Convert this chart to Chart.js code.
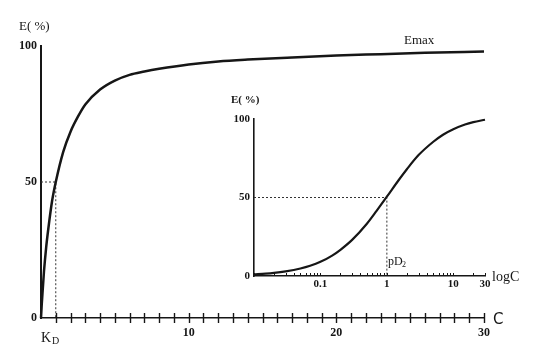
<!DOCTYPE html>
<html>
<head>
<meta charset="utf-8">
<script src="https://cdn.jsdelivr.net/npm/chart.js@4.4.1/dist/chart.umd.min.js"></script>
<style>
html, body { margin: 0; padding: 0; background: #fff; }
#wrap { position: relative; width: 536px; height: 359px; }
#main { position: absolute; left: 0; top: 0; }
#inset { position: absolute; left: 210px; top: 90px; }
</style>
</head>
<body>
<div id="wrap">
  <canvas id="main" width="536" height="359"></canvas>
  <canvas id="inset" width="326" height="210"></canvas>
</div>
<script>
// main plot: E (%) against C
const mainC = [0, 0.05, 0.1, 0.2, 0.35, 0.5, 0.75, 1, 1.5, 2, 2.5, 3, 4, 5, 6, 7, 8, 10, 12, 14, 17, 20, 23, 26, 30];
const mainE = [0, 5, 9, 17, 26, 33, 43, 50, 61, 68.5, 74, 78.5, 84, 87.3, 89.4, 90.6, 91.6, 93.2, 94.3, 95, 95.8, 96.5, 97, 97.5, 98];
const mainYTicks = [0, 50, 100];
const mainXLabels = [10, 20, 30];

// inset: E (%) against log C
const insetC = [0.01, 0.015, 0.02, 0.03, 0.05, 0.07, 0.1, 0.15, 0.2, 0.3, 0.5, 0.7, 1, 1.5, 2, 3, 5, 7, 10, 15, 20, 30];
const insetE = [1, 1.5, 2, 3, 4.8, 6.5, 9, 13, 16.7, 23, 33.3, 41.5, 50.5, 61, 68, 77, 85.5, 90, 93.5, 96.5, 98, 99.5];
const insetYTicks = [0, 50, 100];
const insetXLabels = [0.1, 1, 10, 30];

const kd = 1;      // K_D
const pd2 = 1;     // pD2 point
const halfE = 50;

const ink = '#161616';
const serif = '"Liberation Serif", "DejaVu Serif", serif';

function toPoints(xs, ys) {
    return xs.map((x, i) => ({x: x, y: ys[i]}));
}

const mainDecor = {
    id: 'mainDecor',
    afterDraw(chart) {
        const ctx = chart.ctx;
        const xs = chart.scales.x;
        const bottom = chart.chartArea.bottom;
        ctx.save();
        ctx.strokeStyle = ink;
        ctx.lineWidth = 1.4;
        xs.ticks.forEach(t => {
            if (t.value <= 0) return;
            const px = Math.round(xs.getPixelForValue(t.value)) + 0.5;
            ctx.beginPath();
            ctx.moveTo(px, bottom - 5);
            ctx.lineTo(px, bottom + 5);
            ctx.stroke();
        });
        ctx.fillStyle = ink;
        ctx.textBaseline = 'middle';
        ctx.font = '13px ' + serif;
        ctx.fillText('E( %)', 19, 27);
        ctx.fillText('Emax', 404, 41);
        ctx.font = '14px ' + serif;
        ctx.fillText('K', 41, 338);
        ctx.font = '10px ' + serif;
        ctx.fillText('D', 52, 341);
        ctx.font = '15px "DejaVu Sans", sans-serif';
        ctx.fillText('C', 493, 320);
        ctx.restore();
    }
};

const insetDecor = {
    id: 'insetDecor',
    afterDraw(chart) {
        const ctx = chart.ctx;
        const xs = chart.scales.x;
        const bottom = chart.chartArea.bottom;
        ctx.save();
        ctx.strokeStyle = ink;
        ctx.lineWidth = 1;
        xs.ticks.forEach(t => {
            const px = Math.round(xs.getPixelForValue(t.value)) + 0.5;
            ctx.beginPath();
            ctx.moveTo(px, bottom);
            ctx.lineTo(px, bottom - 3);
            ctx.stroke();
        });
        ctx.fillStyle = ink;
        ctx.textBaseline = 'middle';
        ctx.font = 'bold 11px ' + serif;
        ctx.fillText('E( %)', 21, 10);
        ctx.font = '12px ' + serif;
        ctx.fillText('pD', 178, 172);
        ctx.font = '8px ' + serif;
        ctx.fillText('2', 192, 175);
        ctx.font = '14px ' + serif;
        ctx.fillText('logC', 282, 187);
        ctx.restore();
    }
};

new Chart(document.getElementById('main'), {
    type: 'line',
    data: {
        datasets: [{
            data: toPoints(mainC, mainE),
            borderColor: ink,
            borderWidth: 2.5,
            pointRadius: 0,
            cubicInterpolationMode: 'monotone',
            clip: false
        }, {
            data: [{x: 0, y: halfE}, {x: kd, y: halfE}, {x: kd, y: 0}],
            borderColor: '#333',
            borderWidth: 1,
            borderDash: [2, 2],
            pointRadius: 0,
            clip: false
        }]
    },
    options: {
        responsive: false,
        animation: false,
        devicePixelRatio: 1,
        layout: {padding: {left: 0, top: 46, right: 52, bottom: 0}},
        plugins: {
            legend: {display: false},
            tooltip: {enabled: false}
        },
        scales: {
            x: {
                type: 'linear',
                min: 0,
                max: 30,
                afterFit: s => { s.height = 41; },
                afterBuildTicks: s => {
                    const t = [];
                    for (let v = 0; v <= 30; v++) t.push({value: v});
                    s.ticks = t;
                },
                ticks: {
                    autoSkip: false,
                    maxRotation: 0,
                    padding: 8,
                    color: ink,
                    font: {family: serif, size: 12, weight: 'bold'},
                    callback: v => mainXLabels.includes(v) ? String(v) : ''
                },
                grid: {display: false, drawTicks: false},
                border: {display: true, color: ink, width: 1.6}
            },
            y: {
                min: 0,
                max: 100,
                afterFit: s => { s.width = 41; },
                afterBuildTicks: s => { s.ticks = mainYTicks.map(v => ({value: v})); },
                ticks: {
                    padding: 4,
                    color: ink,
                    font: {family: serif, size: 12, weight: 'bold'}
                },
                grid: {display: false, drawTicks: false},
                border: {display: true, color: ink, width: 2}
            }
        }
    },
    plugins: [mainDecor]
});

new Chart(document.getElementById('inset'), {
    type: 'line',
    data: {
        datasets: [{
            data: toPoints(insetC, insetE),
            borderColor: ink,
            borderWidth: 2.2,
            pointRadius: 0,
            cubicInterpolationMode: 'monotone',
            clip: false
        }, {
            data: [{x: 0.01, y: halfE}, {x: pd2, y: halfE}, {x: pd2, y: 0}],
            borderColor: '#333',
            borderWidth: 1,
            borderDash: [2, 2],
            pointRadius: 0,
            clip: false
        }]
    },
    options: {
        responsive: false,
        animation: false,
        devicePixelRatio: 1,
        layout: {padding: {left: 0, top: 29, right: 51, bottom: 0}},
        plugins: {
            legend: {display: false},
            tooltip: {enabled: false}
        },
        scales: {
            x: {
                type: 'logarithmic',
                min: 0.01,
                max: 30,
                afterFit: s => { s.height = 24; },
                afterBuildTicks: s => {
                    const t = [];
                    for (let e = -2; e <= 1; e++) {
                        for (let m = 1; m <= 9; m++) {
                            const v = Number((m * Math.pow(10, e)).toPrecision(3));
                            if (v >= 0.01 && v <= 30) t.push({value: v});
                        }
                    }
                    s.ticks = t;
                },
                ticks: {
                    autoSkip: false,
                    maxRotation: 0,
                    padding: 2,
                    color: ink,
                    font: {family: serif, size: 11, weight: 'bold'},
                    callback: v => insetXLabels.includes(v) ? String(v) : ''
                },
                grid: {display: false, drawTicks: false},
                border: {display: true, color: ink, width: 1.4}
            },
            y: {
                min: 0,
                max: 100,
                afterFit: s => { s.width = 44; },
                afterBuildTicks: s => { s.ticks = insetYTicks.map(v => ({value: v})); },
                ticks: {
                    padding: 4,
                    color: ink,
                    font: {family: serif, size: 11, weight: 'bold'}
                },
                grid: {display: false, drawTicks: false},
                border: {display: true, color: ink, width: 1.6}
            }
        }
    },
    plugins: [insetDecor]
});
</script>
</body>
</html>
